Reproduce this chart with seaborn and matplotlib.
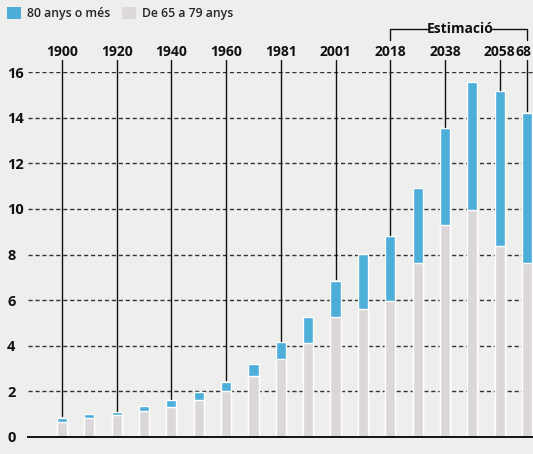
import matplotlib
matplotlib.use("Agg")
import matplotlib.pyplot as plt
from matplotlib.patches import Patch
import seaborn as sns
import pandas as pd

years = [1900, 1910, 1920, 1930, 1940, 1950, 1960, 1970, 1981, 1991,
         2001, 2011, 2018, 2028, 2038, 2048, 2058, 2068]
age_65_79 = [0.65, 0.83, 0.96, 1.15, 1.32, 1.62, 2.02, 2.68, 3.41, 4.11,
             5.28, 5.60, 5.96, 7.62, 9.30, 9.93, 8.38, 7.62]
age_80_plus = [0.20, 0.17, 0.15, 0.20, 0.30, 0.34, 0.41, 0.52, 0.76, 1.15,
               1.58, 2.44, 2.86, 3.31, 4.24, 5.63, 6.80, 6.60]
labeled_years = [1900, 1920, 1940, 1960, 1981, 2001, 2018, 2038, 2058, 2068]
label_texts = ["1900", "1920", "1940", "1960", "1981", "2001", "2018", "2038", "2058", "68"]
yticks = [0, 2, 4, 6, 8, 10, 12, 14, 16]
legend_labels = ["80 anys o més", "De 65 a 79 anys"]
estimate_label = "Estimació"

BLUE = "#4daed9"
GREY = "#dcd7da"
BG = "#eeeeec"

sns.set_theme(style="white")
plt.rcParams["font.family"] = ["Open Sans", "DejaVu Sans"]

df = pd.DataFrame({"year": [str(y) for y in years],
                   "g": age_65_79,
                   "b": age_80_plus})
df["total"] = df["g"] + df["b"]

W, H = 533, 454
fig = plt.figure(figsize=(W / 100, H / 100), dpi=100, facecolor=BG)
x0, x1 = 28, 533
y0, y1 = 437, 72
ax = fig.add_axes([x0 / W, (H - y0) / H, (x1 - x0) / W, (y0 - y1) / H])
ax.set_facecolor(BG)

order = df["year"].tolist()
for t in yticks[1:]:
    ax.axhline(t, color="#333333", lw=1.0, ls=(0, (3, 2)), zorder=0)

sns.barplot(data=df, x="year", y="total", order=order, color=BLUE,
            width=0.37, saturation=1, ax=ax, zorder=2)
sns.barplot(data=df, x="year", y="g", order=order, color=GREY,
            width=0.37, saturation=1, ax=ax, zorder=3)

px_per_cat = 27.35
ax.set_xlim(-(62 - x0) / px_per_cat, 17 + (x1 - 527) / px_per_cat)
ax.set_ylim(0, 16)

for s in ["top", "right", "left"]:
    ax.spines[s].set_visible(False)
ax.spines["bottom"].set_color("#111111")
ax.spines["bottom"].set_linewidth(1.4)
ax.spines["bottom"].set_zorder(5)
ax.set_xticks([])
ax.set_xlabel("")
ax.set_ylabel("")
ax.set_yticks(yticks)
ax.set_yticklabels([str(t) for t in yticks], fontsize=10.5, fontweight="bold",
                   color="#111111", ha="left")
ax.tick_params(axis="y", length=0, pad=15)

ppu = (y0 - y1) / 16.0
def ypix(p):
    return (y0 - p) / ppu

for yr, txt in zip(labeled_years, label_texts):
    i = years.index(yr)
    top = df["total"].iloc[i]
    ax.plot([i, i], [top + 0.05, ypix(60)], color="#111111", lw=1.0,
            clip_on=False, zorder=6)
    xt = i if txt != "68" else i - 0.12
    ax.text(xt, ypix(52), txt, ha="center", va="center", fontsize=10,
            fontweight="bold", color="#111111", clip_on=False)

i0 = years.index(2018)
i1 = years.index(2068)
yb = ypix(29)
ax.plot([i0, i0, (428 - 62) / px_per_cat], [ypix(40), yb, yb], color="#111111",
        lw=1.0, clip_on=False)
ax.plot([(492 - 62) / px_per_cat, i1, i1], [yb, yb, ypix(40)], color="#111111",
        lw=1.0, clip_on=False)
ax.text((460 - 62) / px_per_cat, yb, estimate_label, ha="center", va="center",
        fontsize=10, fontweight="bold", color="#111111", clip_on=False)

handles = [Patch(facecolor=BLUE, edgecolor="none"), Patch(facecolor=GREY, edgecolor="none")]
fig.legend(handles, legend_labels, loc="upper left", bbox_to_anchor=(0.0, 1.0),
           ncol=2, frameon=False, handlelength=1.1, handleheight=1.1,
           handletextpad=0.5, columnspacing=1.0, borderaxespad=0.2,
           prop={"weight": "semibold", "size": 8.8})

fig.savefig("out.png", dpi=100, facecolor=BG)
